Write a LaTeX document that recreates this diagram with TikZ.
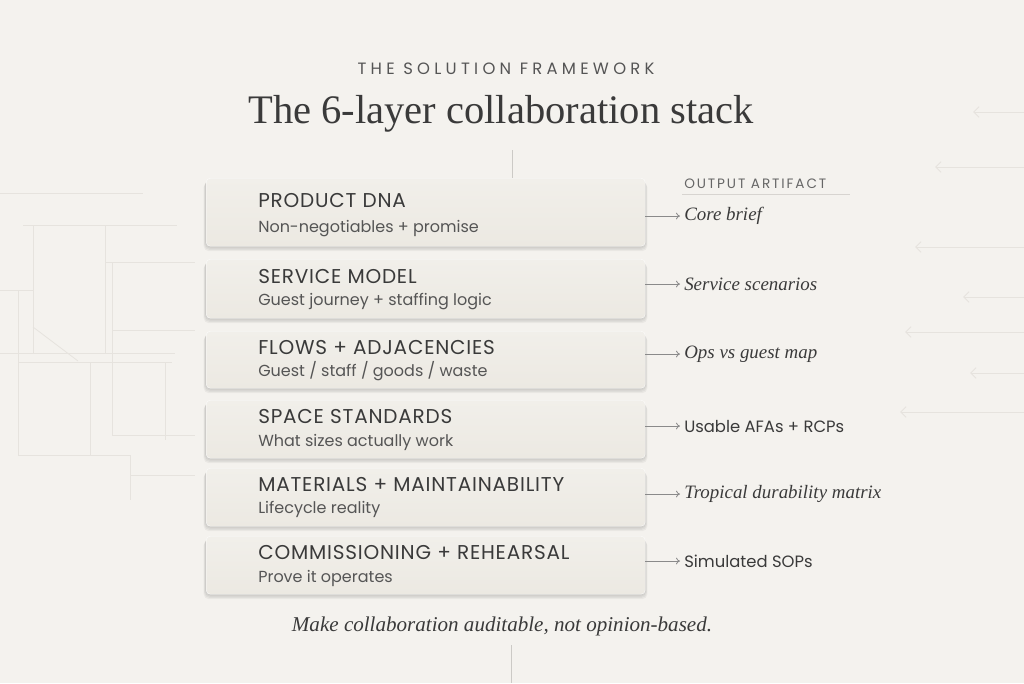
\documentclass[tikz,border=0pt]{standalone}
\usepackage{fontspec}
\setmainfont{Liberation Serif}
\newfontfamily\cardfont[LetterSpace=4]{Poppins}
\newfontfamily\plainsans{Poppins}
\newfontfamily\capfont[LetterSpace=26]{Poppins}
\newfontfamily\headfont[LetterSpace=14]{Poppins}
\usetikzlibrary{arrows.meta}
\definecolor{bg}{HTML}{F4F2EE}
\definecolor{cardfill}{HTML}{ECE9E2}
\definecolor{cardtop}{HTML}{F1EFEA}
\definecolor{ink}{HTML}{3A3A3A}
\definecolor{subink}{HTML}{555555}
\definecolor{faint}{HTML}{E6E3DE}
\definecolor{arrowgray}{HTML}{8A8A8A}
\tikzset{
  cardbox/.style={rectangle, rounded corners=3pt, minimum width=329.25pt, inner sep=0pt, top color=cardtop, bottom color=cardfill, draw=white!85!cardfill, line width=0.3pt},
  cardtitle/.style={anchor=base west, inner sep=0pt, font=\cardfont\fontsize{15}{17}\selectfont, text=ink},
  cardsub/.style={anchor=base west, inner sep=0pt, font=\plainsans\fontsize{12}{14}\selectfont, text=subink},
  outit/.style={anchor=west, inner sep=0pt, font=\itshape\fontsize{14.2}{16}\selectfont, text=ink},
  outsans/.style={anchor=west, inner sep=0pt, font=\plainsans\fontsize{12.3}{14}\selectfont, text=ink},
  outarrow/.style={draw=arrowgray, line width=0.6pt, -{To[length=3pt,width=5pt]}},
  bgline/.style={draw=faint, line width=0.6pt},
  bgarrow/.style={draw=faint, line width=0.7pt, {Straight Barb[length=4pt,width=8pt]}-},
}
\begin{document}
\begin{tikzpicture}[x=0.75pt,y=-0.75pt]
\useasboundingbox (0,0) rectangle (1024,683);
\fill[bg] (0,0) rectangle (1024,683);
% background faint lines left
\draw[bgline] (0,193) -- (143,193);
\draw[bgline] (23,225) -- (177,225);
\draw[bgline] (33,225) -- (33,353);
\draw[bgline] (105,225) -- (105,353);
\draw[bgline] (105,262) -- (195,262);
\draw[bgline] (112,262) -- (112,435);
\draw[bgline] (0,290) -- (33,290);
\draw[bgline] (18,290) -- (18,455);
\draw[bgline] (112,330) -- (195,330);
\draw[bgline] (33,327) -- (78,361);
\draw[bgline] (0,353) -- (175,353);
\draw[bgline] (18,362) -- (172,362);
\draw[bgline] (90,362) -- (90,455);
\draw[bgline] (165,362) -- (165,440);
\draw[bgline] (112,435) -- (195,435);
\draw[bgline] (18,455) -- (130,455);
\draw[bgline] (130,455) -- (130,500);
\draw[bgline] (130,475) -- (195,475);
% background faint arrows right
\draw[bgarrow] (973,112) -- (1024,112);
\draw[bgarrow] (935,167) -- (1024,167);
\draw[bgarrow] (915,247) -- (1024,247);
\draw[bgarrow] (963,297) -- (1024,297);
\draw[bgarrow] (905,332) -- (1024,332);
\draw[bgarrow] (970,373) -- (1024,373);
\draw[bgarrow] (900,412) -- (1024,412);
% vertical guide lines
\draw[draw=faint!75!gray, line width=0.6pt] (512,150) -- (512,178);
\draw[draw=faint!75!gray, line width=0.6pt] (511,645) -- (511,683);
% headings
\node[inner sep=0pt, font=\capfont\fontsize{12.3}{14}\selectfont, text=subink] (kicker) at (506,69) {THE SOLUTION FRAMEWORK};
\node[inner sep=0pt, anchor=base, font=\fontsize{30.4}{34}\selectfont, text=ink] (title) at (501,123) {The 6-layer collaboration stack};
% output header
\node[anchor=base west, inner sep=0pt, font=\headfont\fontsize{10.2}{12}\selectfont, text=subink!90] (outhead) at (684,188) {OUTPUT ARTIFACT};
\draw[draw=faint!85!gray, line width=0.4pt] (682,194) -- (850,194);
% shadows and cards
\foreach \t/\b in {178/246, 259/318, 331/388, 400/458, 468/526, 536/594}{
  \foreach \d in {1,2,3,4}{
    \fill[black, opacity=0.045, rounded corners=4pt] (206-\d*0.6, \t+\d) rectangle (645+\d*0.6, \b+\d*1.3);
  }
}
\node[cardbox, minimum height=51pt, anchor=north west] (c1) at (206,178) {};
\node[cardbox, minimum height=44.25pt, anchor=north west] (c2) at (206,259) {};
\node[cardbox, minimum height=42.75pt, anchor=north west] (c3) at (206,331) {};
\node[cardbox, minimum height=43.5pt, anchor=north west] (c4) at (206,400) {};
\node[cardbox, minimum height=43.5pt, anchor=north west] (c5) at (206,468) {};
\node[cardbox, minimum height=43.5pt, anchor=north west] (c6) at (206,536) {};
% card texts
\node[cardtitle] (t1) at (258,207) {PRODUCT DNA};
\node[cardsub] (s1) at (258,232) {Non-negotiables + promise};
\node[cardtitle] (t2) at (258,283) {SERVICE MODEL};
\node[cardsub] (s2) at (258,305) {Guest journey + staffing logic};
\node[cardtitle] (t3) at (258,354) {FLOWS + ADJACENCIES};
\node[cardsub] (s3) at (258,376) {Guest / staff / goods / waste};
\node[cardtitle] (t4) at (258,423) {SPACE STANDARDS};
\node[cardsub] (s4) at (258,446) {What sizes actually work};
\node[cardtitle] (t5) at (258,491) {MATERIALS + MAINTAINABILITY};
\node[cardsub] (s5) at (258,513) {Lifecycle reality};
\node[cardtitle] (t6) at (258,559) {COMMISSIONING + REHEARSAL};
\node[cardsub] (s6) at (258,582) {Prove it operates};
% outputs
\node[outit] (o1) at (684,216) {Core brief};
\node[outit] (o2) at (684,284) {Service scenarios};
\node[outit] (o3) at (684,354) {Ops vs guest map};
\node[outsans] (o4) at (684,426) {Usable AFAs + RCPs};
\node[outit] (o5) at (684,494) {Tropical durability matrix};
\node[outsans] (o6) at (684,561) {Simulated SOPs};
\foreach \i in {1,...,6}{
  \draw[outarrow] (c\i.east |- o\i.west) -- ([xshift=-3pt]o\i.west);
}
% caption
\node[inner sep=0pt, anchor=base, font=\itshape\fontsize{15.8}{18}\selectfont, text=ink] (caption) at (502,631) {Make collaboration auditable, not opinion-based.};
\end{tikzpicture}
\end{document}
